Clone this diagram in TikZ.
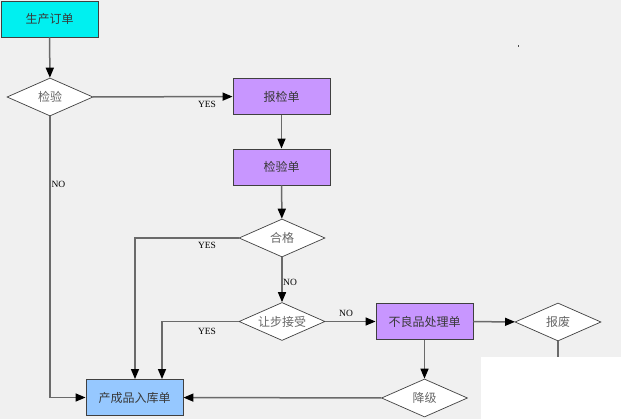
\documentclass[tikz,border=0pt]{standalone}
\usepackage{fontspec}
\setmainfont{Liberation Serif}
\newfontfamily\cjk{Noto Sans CJK SC}
\usetikzlibrary{shapes.geometric,arrows.meta}
\definecolor{bgc}{HTML}{F0F0F0}
\definecolor{cyanbox}{HTML}{00F0F0}
\definecolor{purplebox}{HTML}{C896FF}
\definecolor{bluebox}{HTML}{96C8FF}
\definecolor{linec}{HTML}{6A6A6A}
\definecolor{borderc}{HTML}{404040}
\definecolor{txtc}{HTML}{383838}
\definecolor{dtxtc}{HTML}{666666}
\tikzset{
  stepbox/.style={draw=borderc, line width=0.9pt, rectangle, minimum width=97pt, minimum height=36pt, inner sep=0pt, font=\cjk\fontsize{12}{13}\selectfont, text=txtc},
  decision/.style={draw=borderc, line width=0.7pt, fill=white, diamond, aspect=2.26, minimum width=86pt, minimum height=38pt, inner sep=0pt, font=\cjk\fontsize{12}{13}\selectfont, text=dtxtc},
  conn/.style={draw=linec, line width=1.5pt, -{Triangle[length=10pt,width=8pt,fill=black,color=black]}},
  plain/.style={draw=linec, line width=1.5pt},
  lbl/.style={font=\fontsize{9.5}{10}\selectfont, text=black, inner sep=0pt}
}
\begin{document}
\begin{tikzpicture}[x=1pt,y=-1pt]
\useasboundingbox (0,0) rectangle (621,419);
\fill[bgc] (0,0) rectangle (621,419);

\node[stepbox, fill=cyanbox] (prod) at (49.5,19) {生产订单};
\node[decision] (jy) at (50,97) {检验};
\node[stepbox, fill=purplebox] (bjd) at (281.5,96.5) {报检单};
\node[stepbox, fill=purplebox] (jyd) at (281.5,167) {检验单};
\node[decision] (hg) at (282,238) {合格};
\node[decision] (rb) at (282,321.5) {让步接受};
\node[stepbox, fill=purplebox] (blp) at (424.5,321.5) {不良品处理单};
\node[decision] (bf) at (558,322) {报废};
\node[decision] (jj) at (424.5,398) {降级};
\node[stepbox, fill=bluebox] (ccp) at (134.5,397.5) {产成品入库单};

\coordinate (nocorner) at (50,397.5);
\coordinate (yes1) at (135,238);
\coordinate (yes2) at (162,321.5);
\coordinate (bfend) at (558,362);

\draw[conn] (prod) -- (jy);
\draw[conn] (jy) -- (bjd);
\draw[conn] (jy.south) -- (nocorner) -- (ccp);
\draw[conn] (bjd) -- (jyd);
\draw[conn] (jyd) -- (hg);
\draw[conn] (hg) -- (rb);
\draw[conn] (hg.west) -- (yes1) -- (yes1 |- ccp.north);
\draw[conn] (rb.west) -- (yes2) -- (yes2 |- ccp.north);
\draw[conn] (rb) -- (blp);
\draw[conn] (blp) -- (bf);
\draw[conn] (blp) -- (jj);
\draw[conn] (jj) -- (ccp);
\draw[plain] (bf.south) -- (bfend);

\node[lbl] (l1) at (207,104.5) {YES};
\node[lbl] (l2) at (58.5,184.5) {NO};
\node[lbl] (l3) at (207,245.5) {YES};
\node[lbl] (l4) at (290,282.5) {NO};
\node[lbl] (l5) at (207,331.5) {YES};
\node[lbl] (l6) at (346,313) {NO};

\fill[white] (481,357) rectangle (621,419);
\fill[black!70] (518,45.5) rectangle (519,47);
\end{tikzpicture}
\end{document}
